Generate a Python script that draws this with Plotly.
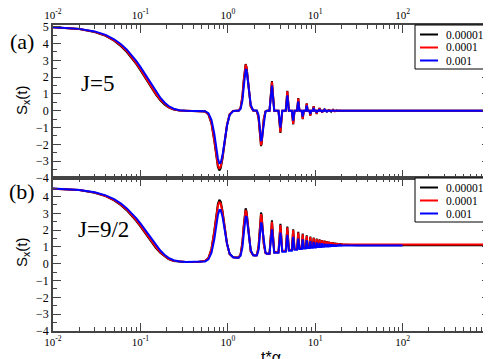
import plotly.graph_objects as go
from plotly.subplots import make_subplots

# ---------------- data ----------------
series_names = ["0.00001", "0.0001", "0.001"]
series_colors = ["#000000", "#ff0000", "#0000ff"]

# initial decay
t_decay = [0.01, 0.015, 0.02, 0.03, 0.04, 0.05, 0.06, 0.07, 0.08, 0.09, 0.1, 0.11,
           0.12, 0.13, 0.14, 0.15, 0.17, 0.19, 0.21, 0.24, 0.28, 0.33, 0.45]
a_decay_black = [4.96, 4.92, 4.86, 4.68, 4.45, 4.17, 3.84, 3.49, 3.13, 2.77, 2.41, 2.07,
                 1.75, 1.45, 1.19, 0.97, 0.61, 0.36, 0.20, 0.07, 0.02, 0, 0]
a_decay_red = [4.96, 4.92, 4.86, 4.69, 4.47, 4.19, 3.88, 3.54, 3.18, 2.82, 2.47, 2.13,
               1.81, 1.52, 1.25, 1.02, 0.65, 0.39, 0.22, 0.085, 0.02, 0, 0]
a_decay_blue = [4.97, 4.93, 4.87, 4.72, 4.51, 4.25, 3.96, 3.63, 3.30, 2.95, 2.61, 2.28,
                1.96, 1.67, 1.40, 1.16, 0.76, 0.48, 0.28, 0.12, 0.03, 0.004, 0]
b_decay_black = [4.46, 4.43, 4.38, 4.22, 4.02, 3.77, 3.48, 3.17, 2.85, 2.54, 2.22, 1.92,
                 1.64, 1.38, 1.15, 0.95, 0.64, 0.42, 0.28, 0.16, 0.12, 0.10, 0.11]
b_decay_red = [4.46, 4.43, 4.38, 4.23, 4.03, 3.79, 3.51, 3.22, 2.90, 2.58, 2.27, 1.97,
               1.69, 1.44, 1.20, 1.00, 0.67, 0.44, 0.29, 0.17, 0.12, 0.10, 0.11]
b_decay_blue = [4.47, 4.44, 4.39, 4.25, 4.07, 3.84, 3.58, 3.29, 3.00, 2.70, 2.40, 2.11,
                1.82, 1.57, 1.33, 1.12, 0.77, 0.52, 0.35, 0.21, 0.13, 0.10, 0.11]

# first revival (t ~ 0.8)
t_rev1 = [0.55, 0.6, 0.65, 0.7, 0.74, 0.77, 0.8, 0.83, 0.87, 0.92, 0.98, 1.05, 1.15, 1.25]
a_rev1_black = [-0.05, -0.22, -0.75, -1.78, -2.77, -3.34, -3.55, -3.41, -2.84, -1.88, -0.85, -0.22, -0.01, 0]
a_rev1_red = [-0.04, -0.21, -0.72, -1.73, -2.69, -3.24, -3.45, -3.31, -2.76, -1.83, -0.83, -0.21, -0.01, 0]
a_rev1_blue = [-0.03, -0.14, -0.54, -1.35, -2.27, -2.84, -3.12, -3.09, -2.65, -1.83, -0.88, -0.25, -0.02, 0]
b_rev1_black = [0.17, 0.34, 0.88, 1.94, 2.96, 3.56, 3.80, 3.69, 3.14, 2.21, 1.20, 0.58, 0.38, 0.37]
b_rev1_red = [0.17, 0.33, 0.86, 1.88, 2.87, 3.44, 3.68, 3.57, 3.05, 2.14, 1.17, 0.57, 0.38, 0.37]
b_rev1_blue = [0.14, 0.26, 0.64, 1.44, 2.33, 2.89, 3.19, 3.19, 2.80, 2.05, 1.18, 0.60, 0.39, 0.36]

# second revival (t ~ 1.6)
t_rev2 = [1.33, 1.4, 1.47, 1.52, 1.56, 1.6, 1.64, 1.69, 1.75, 1.83, 1.95, 2.05]
a_rev2_black = [0, 0.17, 0.86, 1.78, 2.49, 2.78, 2.59, 1.95, 1.03, 0.26, 0.01, 0]
a_rev2_red = [0, 0.17, 0.85, 1.76, 2.46, 2.75, 2.56, 1.93, 1.02, 0.26, 0.01, 0]
a_rev2_blue = [0, 0.10, 0.60, 1.38, 2.08, 2.45, 2.43, 1.93, 1.13, 0.35, 0.03, 0]
b_rev2_black = [0.37, 0.55, 1.28, 2.24, 2.99, 3.30, 3.11, 2.45, 1.52, 0.74, 0.50, 0.50]
b_rev2_red = [0.37, 0.54, 1.24, 2.18, 2.90, 3.20, 3.01, 2.38, 1.48, 0.74, 0.50, 0.50]
b_rev2_blue = [0.36, 0.47, 0.97, 1.73, 2.43, 2.80, 2.79, 2.31, 1.55, 0.81, 0.51, 0.48]

# third revival (t ~ 2.4)
t_rev3 = [2.15, 2.25, 2.32, 2.36, 2.4, 2.44, 2.5, 2.58, 2.7, 2.8]
a_rev3_black = [0, -0.44, -1.34, -1.88, -2.1, -1.95, -1.34, -0.5, -0.04, 0]
a_rev3_red = [0, -0.43, -1.31, -1.83, -2.05, -1.91, -1.31, -0.49, -0.04, 0]
a_rev3_blue = [0, -0.27, -0.99, -1.49, -1.76, -1.75, -1.30, -0.54, -0.05, 0]
b_rev3_black = [0.5, 1.05, 2.13, 2.78, 3.05, 2.89, 2.17, 1.18, 0.65, 0.6]
b_rev3_red = [0.5, 1.02, 2.07, 2.69, 2.95, 2.79, 2.11, 1.16, 0.64, 0.6]
b_rev3_blue = [0.5, 0.81, 1.58, 2.12, 2.41, 2.40, 1.94, 1.15, 0.66, 0.6]

# later (narrow) revivals: foot before, peak, foot after
late_left_t = [3.0, 3.8, 4.6, 5.4, 6.2, 7.0, 7.8, 8.6, 9.4, 10.2, 11.0, 11.8,
               12.6, 13.4, 14.2, 15.0, 15.8, 16.6, 17.4, 18.2, 19.0, 19.8]
late_peak_t = [3.2, 4.0, 4.8, 5.6, 6.4, 7.2, 8.0, 8.8, 9.6, 10.4, 11.2, 12.0,
               12.8, 13.6, 14.4, 15.2, 16.0, 16.8, 17.6, 18.4, 19.2, 20.0]
late_right_t = [3.4, 4.2, 5.0, 5.8, 6.6, 7.4, 8.2, 9.0, 9.8, 10.6, 11.4, 12.2,
                13.0, 13.8, 14.6, 15.4, 16.2, 17.0, 17.8, 18.6, 19.4, 20.2]
a_late_peak_black = [1.77, -1.32, 1.19, -0.81, 0.75, -0.5, 0.44, -0.29, 0.27, -0.19, 0.17, -0.12,
                     0.11, -0.08, 0.07, -0.05, 0.04, -0.03, 0.02, -0.01, 0.01, 0]
a_late_peak_red = [1.72, -1.28, 1.15, -0.78, 0.72, -0.48, 0.42, -0.28, 0.26, -0.18, 0.16, -0.11,
                   0.10, -0.07, 0.06, -0.04, 0.04, -0.03, 0.02, -0.01, 0.01, 0]
a_late_peak_blue = [1.5, -1.0, 0.92, -0.58, 0.55, -0.35, 0.32, -0.2, 0.18, -0.12, 0.1, -0.07,
                    0.06, -0.04, 0.03, -0.02, 0.02, -0.01, 0.01, 0, 0, 0]
a_late_trough = [0] * 22
b_late_peak_black = [2.58, 2.37, 2.21, 2.05, 1.9, 1.79, 1.69, 1.61, 1.55, 1.5, 1.45, 1.41,
                     1.38, 1.35, 1.32, 1.29, 1.27, 1.25, 1.23, 1.22, 1.21, 1.2]
b_late_peak_red = [2.5, 2.3, 2.15, 2.0, 1.85, 1.75, 1.65, 1.58, 1.52, 1.47, 1.43, 1.39,
                   1.36, 1.33, 1.30, 1.28, 1.26, 1.24, 1.22, 1.21, 1.20, 1.19]
b_late_peak_blue = [2.05, 1.85, 1.72, 1.6, 1.5, 1.45, 1.4, 1.35, 1.3, 1.27, 1.24, 1.22,
                    1.2, 1.18, 1.17, 1.16, 1.15, 1.14, 1.13, 1.13, 1.12, 1.12]
b_late_trough_red = [0.68, 0.76, 0.82, 0.87, 0.91, 0.94, 0.97, 0.99, 1.01, 1.03, 1.05, 1.06,
                     1.07, 1.08, 1.09, 1.10, 1.11, 1.12, 1.12, 1.13, 1.13, 1.14]
b_late_trough_blue = [0.65, 0.72, 0.78, 0.83, 0.87, 0.9, 0.93, 0.95, 0.97, 0.99, 1.0, 1.01,
                      1.02, 1.03, 1.04, 1.05, 1.06, 1.06, 1.07, 1.07, 1.08, 1.08]

# long-time tail
t_tail = [30, 100, 1000]
a_tail = [0, 0, 0]
b_tail_black = [1.1, 1.1, 1.1]
b_tail_red = [1.15, 1.15, 1.15]
b_tail_blue = [1.09, 1.09]

x_tick_vals = [0.01, 0.1, 1, 10, 100, 1000]
x_tick_text = ["10<sup>-2</sup>", "10<sup>-1</sup>", "10<sup>0</sup>",
               "10<sup>1</sup>", "10<sup>2</sup>", "10<sup>3</sup>"]
y_title = "S<sub>x</sub>(t)"
x_title = "t*α"


def late_points(first_trough, peaks, troughs):
    ts, ys = [], []
    prev = first_trough
    for i in range(len(late_peak_t)):
        ts += [late_left_t[i], late_peak_t[i], late_right_t[i]]
        ys += [prev, peaks[i], troughs[i]]
        prev = troughs[i]
    return ts, ys


def build(dec, r1, r2, r3, late, tail_y):
    lt, ly = late
    t = t_decay + t_rev1 + t_rev2 + t_rev3 + lt + t_tail[:len(tail_y)]
    y = dec + r1 + r2 + r3 + ly + tail_y
    return t, y


panel_a = [
    build(a_decay_black, a_rev1_black, a_rev2_black, a_rev3_black,
          late_points(0, a_late_peak_black, a_late_trough), a_tail),
    build(a_decay_red, a_rev1_red, a_rev2_red, a_rev3_red,
          late_points(0, a_late_peak_red, a_late_trough), a_tail),
    build(a_decay_blue, a_rev1_blue, a_rev2_blue, a_rev3_blue,
          late_points(0, a_late_peak_blue, a_late_trough), a_tail),
]
panel_b = [
    build(b_decay_black, b_rev1_black, b_rev2_black, b_rev3_black,
          late_points(0.6, b_late_peak_black, b_late_trough_red), b_tail_black),
    build(b_decay_red, b_rev1_red, b_rev2_red, b_rev3_red,
          late_points(0.6, b_late_peak_red, b_late_trough_red), b_tail_red),
    build(b_decay_blue, b_rev1_blue, b_rev2_blue, b_rev3_blue,
          late_points(0.6, b_late_peak_blue, b_late_trough_blue), b_tail_blue),
]

# ---------------- figure ----------------
W, H = 491, 359
ml, mr, mt, mb = 45, 9, 17, 36
pw, ph = W - ml - mr, H - mt - mb

fig = make_subplots(rows=2, cols=1, shared_xaxes=True, vertical_spacing=0)

for i, (t, y) in enumerate(panel_a):
    fig.add_trace(go.Scatter(x=t, y=y, mode="lines", name=series_names[i],
                             line=dict(color=series_colors[i], width=2),
                             showlegend=False), row=1, col=1)
for i, (t, y) in enumerate(panel_b):
    fig.add_trace(go.Scatter(x=t, y=y, mode="lines", name=series_names[i],
                             line=dict(color=series_colors[i], width=2),
                             showlegend=False), row=2, col=1)

serif = "Liberation Serif"
sans = "Liberation Sans"
axis_color = "#444444"
minor_x = [k * 10 ** d for d in range(-2, 3) for k in range(2, 10)]

xcommon = dict(type="log", range=[-2, 3], tickvals=x_tick_vals, ticktext=x_tick_text,
               ticks="inside", ticklen=8, tickwidth=1.2, tickcolor=axis_color,
               showline=True, linecolor=axis_color, linewidth=1.5, mirror="allticks",
               showgrid=False, zeroline=False, automargin=False,
               tickfont=dict(family=serif, size=11, color="black"),
               minor=dict(tickvals=minor_x, ticks="inside", ticklen=4,
                          tickcolor=axis_color, showgrid=False))
fig.update_xaxes(**xcommon)
fig.update_xaxes(side="top", showticklabels=True, ticklabelstandoff=0, row=1, col=1)
fig.update_xaxes(side="bottom", showticklabels=True, row=2, col=1)

ycommon = dict(range=[-4, 5.1], ticks="inside", ticklen=8, tickwidth=1.2,
               tickcolor=axis_color, showline=True, linecolor=axis_color, linewidth=1.5,
               mirror="allticks", showgrid=False, zeroline=False, automargin=False,
               tickfont=dict(family=serif, size=12, color="black"),
               minor=dict(dtick=0.5, ticks="inside", ticklen=4, tickcolor=axis_color,
                          showgrid=False))
fig.update_yaxes(**ycommon)
fig.update_yaxes(tickvals=list(range(-4, 6)), row=1, col=1)
fig.update_yaxes(tickvals=list(range(-4, 5)), row=2, col=1)


def to_paper(x, y):
    return (x - ml) / pw, 1 - (y - mt) / ph


# axis titles
for yy in (93, 245):
    px, py = to_paper(14, yy)
    fig.add_annotation(text=y_title, x=px, y=py, xref="paper", yref="paper",
                       showarrow=False, textangle=-90, xanchor="center", yanchor="middle",
                       font=dict(family=sans, size=15, color="black"))
px, py = to_paper(263, 359)
fig.add_annotation(text=x_title, x=px, y=py, xref="paper", yref="paper",
                   showarrow=False, xanchor="center", yanchor="bottom", borderpad=0,
                   font=dict(family=sans, size=16, color="black"))

# panel labels and J annotations
for txt, x, y, size in [("(a)", 14, 33, 22), ("(b)", 14, 183, 22),
                        ("J=5", 89, 75, 23), ("J=9/2", 95, 222, 23)]:
    px, py = to_paper(x, y)
    fig.add_annotation(text=txt, x=px, y=py, xref="paper", yref="paper",
                       showarrow=False, xanchor="center", yanchor="middle",
                       font=dict(family=serif, size=size, color="black"))

# legends (one boxed legend per panel)
for top in (17, 170):
    x0, y0 = to_paper(407, top)
    x1, y1 = to_paper(482, top + 44)
    fig.add_shape(type="rect", xref="paper", yref="paper", x0=x0, x1=x1, y0=y1, y1=y0,
                  line=dict(color="black", width=1), fillcolor="white", layer="above")
    for i, name in enumerate(series_names):
        yy = top + 9.5 + 13 * i
        lx0, ly = to_paper(412, yy)
        lx1, _ = to_paper(430, yy)
        fig.add_shape(type="line", xref="paper", yref="paper", x0=lx0, x1=lx1, y0=ly, y1=ly,
                      line=dict(color=series_colors[i], width=2), layer="above")
        tx, _ = to_paper(437, yy)
        fig.add_annotation(text=name, x=tx, y=ly, xref="paper", yref="paper",
                           showarrow=False, xanchor="left", yanchor="middle",
                           borderpad=0, height=12,
                           font=dict(family=serif, size=11.5, color="black"))

fig.update_layout(width=W, height=H, margin=dict(l=ml, r=mr, t=mt, b=mb, autoexpand=False),
                  plot_bgcolor="white", paper_bgcolor="white", showlegend=False)

fig.write_html("out.html")
